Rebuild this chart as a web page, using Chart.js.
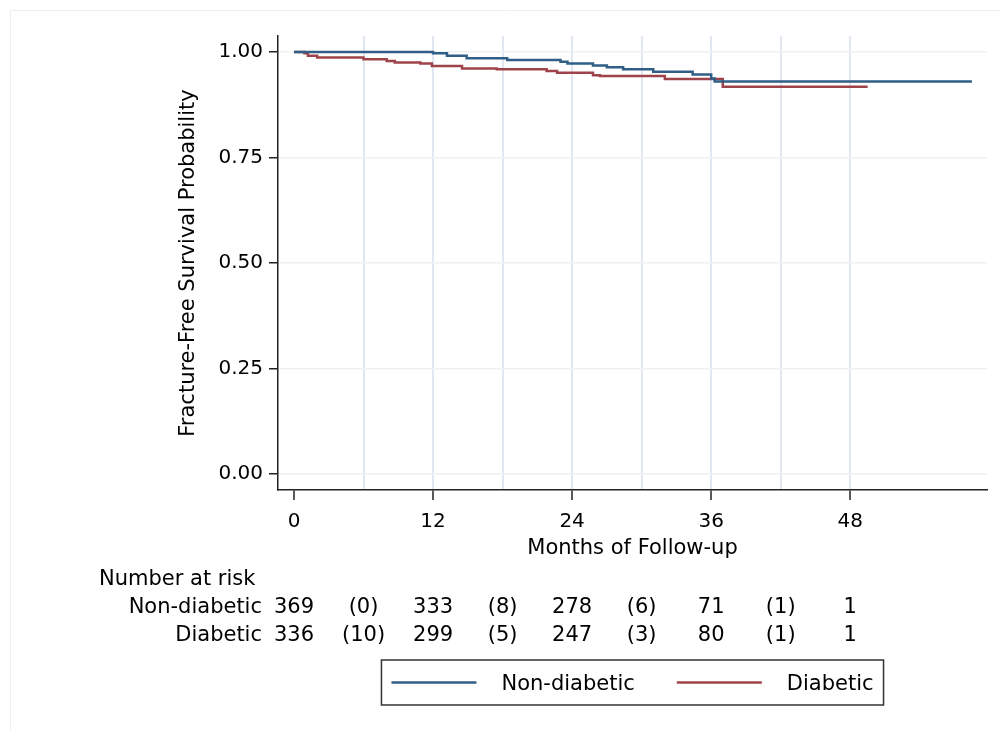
<!DOCTYPE html>
<html>
<head>
<meta charset="utf-8">
<title>Fracture-free survival</title>
<script src="https://cdn.jsdelivr.net/npm/chart.js@4.4.1/dist/chart.umd.min.js"></script>
<style>
  html, body { margin: 0; padding: 0; background: #fff; }
  #wrap { position: relative; width: 1000px; height: 733px; }
</style>
</head>
<body>
<div id="wrap"><canvas id="km"></canvas></div>
<script>
// Kaplan-Meier steps: month of each drop and survival after it (last point = end of follow-up)
const nonDiabeticMonths = [0, 12.0, 13.2, 14.9, 18.4, 23.0, 23.6, 25.8, 27.0, 28.4, 31.0, 34.4, 36.0, 36.3, 58.5];
const nonDiabeticSurv   = [1.000, 0.997, 0.991, 0.985, 0.981, 0.977, 0.973, 0.968, 0.964, 0.959, 0.953, 0.947, 0.937, 0.930, 0.930];

const diabeticMonths = [0, 0.9, 1.2, 2.0, 6.0, 8.0, 8.7, 10.9, 11.9, 14.5, 17.5, 21.8, 22.7, 25.8, 26.4, 32.0, 37.0, 49.5];
const diabeticSurv   = [1.000, 0.997, 0.991, 0.987, 0.983, 0.979, 0.975, 0.973, 0.967, 0.961, 0.959, 0.955, 0.951, 0.945, 0.943, 0.936, 0.918, 0.918];

const groups = ['Non-diabetic', 'Diabetic'];

// axis ticks
const xTicks = [0, 6, 12, 18, 24, 30, 36, 42, 48];
const yTicks = [0, 0.25, 0.5, 0.75, 1];

// number-at-risk table (censored counts in brackets)
const riskTimes = [0, 6, 12, 18, 24, 30, 36, 42, 48];
const nonDiabeticRisk = ['369', '(0)', '333', '(8)', '278', '(6)', '71', '(1)', '1'];
const diabeticRisk    = ['336', '(10)', '299', '(5)', '247', '(3)', '80', '(1)', '1'];

const FONT = 'DejaVu Sans';
const TEXT = '#000';
const BLUE = '#315e86';
const RED = '#9f434b';

Chart.defaults.font.family = FONT;
Chart.defaults.color = TEXT;

function toPoints(xs, ys) {
    return xs.map(function(x, i) { return { x: x, y: ys[i] }; });
}

// white background and the faint outer frame
const frame = {
    id: 'frame',
    beforeDraw: function(chart) {
        const ctx = chart.ctx;
        ctx.save();
        ctx.fillStyle = '#fff';
        ctx.fillRect(0, 0, chart.width, chart.height);
        ctx.strokeStyle = '#ededed';
        ctx.lineWidth = 1;
        ctx.beginPath();
        ctx.moveTo(10.5, chart.height - 3);
        ctx.lineTo(10.5, 10.5);
        ctx.lineTo(chart.width, 10.5);
        ctx.stroke();
        ctx.restore();
    }
};

// number at risk rows under the x axis
const riskTable = {
    id: 'riskTable',
    afterDraw: function(chart) {
        const ctx = chart.ctx;
        const xs = chart.scales.x;
        ctx.save();
        ctx.font = '21px "' + FONT + '"';
        ctx.fillStyle = TEXT;
        ctx.textBaseline = 'middle';
        ctx.textAlign = 'left';
        ctx.fillText('Number at risk', 99, 580);
        ctx.textAlign = 'right';
        ctx.fillText(groups[0], 262, 608);
        ctx.fillText(groups[1], 262, 636);
        ctx.textAlign = 'center';
        riskTimes.forEach(function(t, i) {
            const px = xs.getPixelForValue(t);
            ctx.fillText(nonDiabeticRisk[i], px, 608);
            ctx.fillText(diabeticRisk[i], px, 636);
        });
        ctx.restore();
    }
};

// boxed legend centred under the plot area
const boxLegend = {
    id: 'boxLegend',
    afterDraw: function(chart) {
        const ctx = chart.ctx;
        const ca = chart.chartArea;
        const sample = 85, gap = 25, itemGap = 42, pad = 10;
        ctx.save();
        ctx.font = '21px "' + FONT + '"';
        const widths = chart.data.datasets.map(function(ds) { return ctx.measureText(ds.label).width; });
        const total = pad * 2 + sample * 2 + gap * 2 + itemGap + widths[0] + widths[1];
        const left = (ca.left + ca.right) / 2 - total / 2;
        const top = 660, h = 45, cy = top + h / 2;
        ctx.strokeStyle = '#333';
        ctx.lineWidth = 1.5;
        ctx.strokeRect(left, top, total, h);
        let cx = left + pad;
        ctx.textBaseline = 'middle';
        ctx.textAlign = 'left';
        chart.data.datasets.forEach(function(ds, i) {
            ctx.strokeStyle = ds.borderColor;
            ctx.lineWidth = 2.5;
            ctx.beginPath();
            ctx.moveTo(cx, cy);
            ctx.lineTo(cx + sample, cy);
            ctx.stroke();
            ctx.fillStyle = TEXT;
            ctx.fillText(ds.label, cx + sample + gap, cy + 2);
            cx += sample + gap + widths[i] + itemGap;
        });
        ctx.restore();
    }
};

new Chart(document.getElementById('km'), {
    type: 'line',
    data: {
        datasets: [
            {
                label: groups[0],
                data: toPoints(nonDiabeticMonths, nonDiabeticSurv),
                borderColor: BLUE,
                backgroundColor: BLUE,
                borderWidth: 2.5,
                stepped: 'before',
                pointRadius: 0,
                fill: false
            },
            {
                label: groups[1],
                data: toPoints(diabeticMonths, diabeticSurv),
                borderColor: RED,
                backgroundColor: RED,
                borderWidth: 2.5,
                stepped: 'before',
                pointRadius: 0,
                fill: false
            }
        ]
    },
    options: {
        responsive: true,
        maintainAspectRatio: false,
        animation: false,
        layout: { padding: { left: 170, top: 36, right: 13, bottom: 0 } },
        plugins: {
            legend: { display: false },
            tooltip: { enabled: false }
        },
        scales: {
            x: {
                type: 'linear',
                min: -1.38,
                max: 59.8,
                afterBuildTicks: function(scale) {
                    scale.ticks = xTicks.map(function(v) { return { value: v }; });
                },
                afterFit: function(scale) { scale.height = 243; },
                ticks: {
                    callback: function(value) { return value % 12 === 0 ? String(value) : ''; },
                    font: { size: 20 },
                    color: TEXT,
                    padding: 10,
                    maxRotation: 0,
                    autoSkip: false
                },
                grid: {
                    color: function(ctx) { return ctx.tick && ctx.tick.value > 0 ? '#e1e7f1' : 'rgba(0,0,0,0)'; },
                    lineWidth: 2,
                    tickColor: function(ctx) { return ctx.tick && ctx.tick.value % 12 === 0 ? '#222' : 'rgba(0,0,0,0)'; },
                    tickWidth: 1.5,
                    tickLength: 10
                },
                border: { color: '#222', width: 1.5 },
                title: {
                    display: true,
                    text: 'Months of Follow-up',
                    font: { size: 21 },
                    color: TEXT,
                    padding: { top: 0, bottom: 172 }
                }
            },
            y: {
                min: -0.038,
                max: 1.038,
                afterBuildTicks: function(scale) {
                    scale.ticks = yTicks.map(function(v) { return { value: v }; });
                },
                afterFit: function(scale) { scale.width = 108; },
                ticks: {
                    callback: function(value) { return value.toFixed(2); },
                    font: { size: 20 },
                    color: TEXT,
                    padding: 6
                },
                grid: {
                    color: '#edf1f1',
                    lineWidth: 1.5,
                    tickColor: '#222',
                    tickWidth: 1.5,
                    tickLength: 9
                },
                border: { color: '#222', width: 1.5 },
                title: {
                    display: true,
                    text: 'Fracture-Free Survival Probability',
                    font: { size: 21 },
                    color: TEXT,
                    padding: { top: 6, bottom: 0 }
                }
            }
        }
    },
    plugins: [frame, riskTable, boxLegend]
});
</script>
</body>
</html>
